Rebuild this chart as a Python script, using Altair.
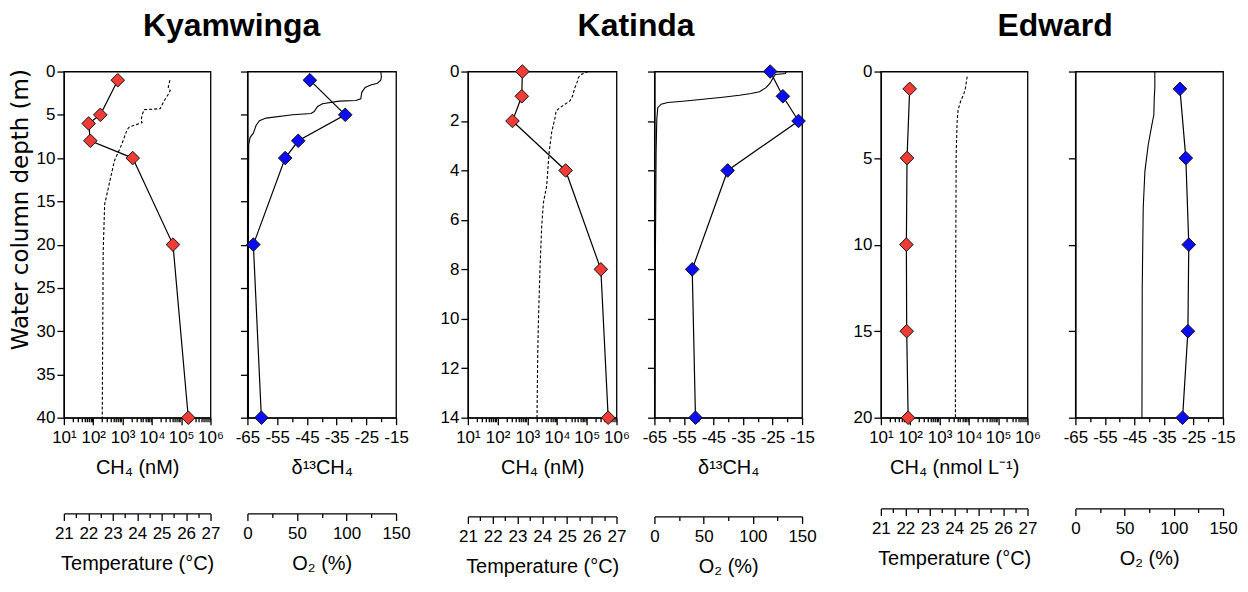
import altair as alt
import pandas as pd

FONT = "Liberation Sans"
RED = "#f03c37"
BLUE = "#0c0cf5"

# ---------------- Kyamwinga ----------------
ky_ch4_depth = [1, 5, 6, 8, 10, 20, 40]
ky_ch4 = [690, 175, 70, 80, 2230, 52500, 175000]
ky_d13_depth = [1, 5, 8, 10, 20, 40]
ky_d13 = [-44.0, -32.1, -47.9, -52.3, -63.0, -60.3]
ky_temp_depth = [1.0, 1.8, 2.2, 2.6, 3.4, 4.1, 4.3, 4.4, 5.0, 5.7, 5.9, 6.4, 6.7, 8.4, 10.3, 12.3, 14.6, 15.3, 20.7, 40]
ky_temp = [25.34, 25.27, 25.35, 25.28, 25.10, 24.97, 24.94, 24.29, 24.20, 24.16, 24.20, 23.68, 23.59, 23.37, 23.07, 22.91, 22.73, 22.67, 22.61, 22.57]
ky_o2_depth = [0, 0.6, 1.0, 1.35, 1.55, 1.85, 2.4, 3.15, 3.35, 3.42, 3.73, 4.04, 4.62, 4.85, 5.0, 5.38, 5.69, 6.23, 7.12, 7.6, 8.46, 15, 25, 40]
ky_o2 = [134.6, 135.2, 134.6, 131.2, 124.5, 118.8, 115.4, 114.4, 109.4, 92.6, 75.8, 70.8, 67.4, 64.1, 45.6, 18.8, 12.1, 8.7, 6.0, 2.7, 1.3, 1.1, 1.0, 1.0]

# ---------------- Katinda ----------------
ka_ch4_depth = [0, 1, 2, 4, 8, 14]
ka_ch4 = [680, 650, 316, 19400, 297000, 525000]
ka_d13_depth = [0, 1, 2, 4, 8, 14]
ka_d13 = [-25.8, -21.5, -16.2, -40.2, -52.2, -51.1]
ka_temp_depth = [0, 0.11, 0.24, 0.38, 0.65, 0.98, 1.19, 1.32, 1.46, 1.59, 1.86, 2.47, 3.28, 4.63, 5.3, 6.24, 8.0, 10.0, 11.4, 14]
ka_temp = [25.86, 25.59, 25.46, 25.43, 25.32, 25.23, 25.12, 24.92, 24.72, 24.56, 24.52, 24.38, 24.28, 24.18, 24.05, 23.98, 23.91, 23.85, 23.82, 23.79]
ka_o2_depth = [0, 0.08, 0.12, 0.28, 0.47, 0.65, 0.82, 0.89, 0.96, 1.04, 1.12, 1.2, 1.25, 1.32, 1.46, 1.93, 3.28, 7.3, 14]
ka_o2 = [133.8, 133.1, 122.9, 120.2, 117.5, 113.4, 106.7, 98.2, 86.4, 69.4, 49.1, 28.8, 13.5, 6.8, 3.4, 2.4, 1.7, 1.0, 0.3]

# ---------------- Edward ----------------
ed_ch4_depth = [1, 5, 10, 15, 20]
ed_ch4 = [96, 78, 74, 76, 85]
ed_d13_depth = [1, 5, 10, 15, 20]
ed_d13 = [-29.6, -27.6, -26.6, -26.9, -28.7]
ed_temp_depth = [0.29, 0.96, 1.31, 1.73, 2.21, 2.88, 4.8, 8.65, 14.4, 20]
ed_temp = [24.53, 24.46, 24.39, 24.26, 24.16, 24.12, 24.08, 24.07, 24.05, 24.05]
ed_o2_depth = [0, 0.96, 1.54, 2.5, 3.17, 4.23, 5.77, 7.88, 12.5, 20]
ed_o2 = [80.7, 80.7, 80.1, 79.7, 77.4, 74.0, 70.6, 68.9, 67.9, 67.6]

# ---------------- ticks ----------------
ch4_major = [10, 100, 1000, 10000, 100000, 1000000]
ch4_labels = ["10¹", "10²", "10³", "10⁴", "10⁵", "10⁶"]
ch4_ticks = [k * 10 ** n for n in range(1, 6) for k in range(1, 10)] + [10 ** 6]
d13_ticks = list(range(-65, -14, 5))
temp_ticks = [21 + 0.5 * i for i in range(13)]
o2_ticks = list(range(0, 151, 25))

ch4_label_expr = " : ".join(
    f"datum.value == {v} ? '{l}'" for v, l in zip(ch4_major, ch4_labels)
) + " : ''"
ch4_test = "indexof([" + ",".join(str(v) for v in ch4_major) + "], datum.value) >= 0"
d13_test = "(datum.value + 65) % 10 == 0"
temp_test = "datum.value % 1 == 0"
o2_test = "datum.value % 50 == 0"


def x_axis(values, test, label_expr, title, offset=0, title_pad=12):
    kw = dict(
        values=values, orient="bottom", offset=offset, labelExpr=label_expr,
        labelOverlap=False, labelFlush=False, labelFont=FONT, labelFontSize=17,
        labelColor="black", labelPadding=5, tickColor="black", tickWidth=1.3,
        domainColor="black", domainWidth=1.3, grid=False, titleFont=FONT,
        titleFontSize=20, titleFontWeight="normal", titleColor="black",
        titlePadding=title_pad,
        tickSize={"condition": {"test": test, "value": 7}, "value": 4},
    )
    kw["title"] = title
    return alt.Axis(**kw)


def y_axis(values, labels, title):
    kw = dict(
        values=values, labels=labels, labelFlush=False, labelOverlap=False,
        labelFont=FONT, labelFontSize=17, labelColor="black", labelPadding=2,
        tickColor="black", tickWidth=1.3, tickSize=7, domainColor="black",
        domainWidth=1.3, grid=False, titleFont="DejaVu Sans", titleFontSize=23,
        titleFontWeight="normal", titleColor="black", titlePadding=4,
        titleY=138,
    )
    kw["title"] = title
    return alt.Axis(**kw)


def panel(pts_df, xfield, xscale, xaxis, color, prof_df, pfield, pscale, paxis,
          yscale, yaxis, w, h, dashed):
    Y = alt.Y("depth:Q", scale=yscale, axis=yaxis)
    line_kw = dict(color="black", strokeWidth=1.1)
    if dashed:
        line_kw["strokeDash"] = [3, 2]
    prof = alt.Chart(prof_df).mark_line(**line_kw).encode(
        x=alt.X(f"{pfield}:Q", scale=pscale, axis=paxis),
        y=Y, order=alt.Order("depth:Q"))
    X = alt.X(f"{xfield}:Q", scale=xscale, axis=xaxis)
    conn = alt.Chart(pts_df).mark_line(color="black", strokeWidth=1.2).encode(
        x=X, y=Y, order=alt.Order("depth:Q"))
    dots = alt.Chart(pts_df).mark_point(
        shape="diamond", filled=True, fill=color, stroke="#111111",
        strokeWidth=1, size=185, opacity=1).encode(x=X, y=Y)
    return alt.layer(prof, alt.layer(conn, dots)).resolve_scale(
        x="independent").properties(width=w, height=h)


def lake(name, ch4_depth, ch4, d13_depth, d13, t_depth, temp, o_depth, o2,
         dmax, yvals, ytitle, ch4_title, d13_title, t_off, gap, widths, h, tdx):
    yscale = alt.Scale(domain=[0, dmax], reverse=True, nice=False, zero=False)
    ch4_scale = alt.Scale(type="log", domain=[10, 1000000], nice=False)
    d13_scale = alt.Scale(domain=[-65, -15], nice=False, zero=False)
    t_scale = alt.Scale(domain=[21, 27], nice=False, zero=False)
    o_scale = alt.Scale(domain=[0, 150], nice=False, zero=False)

    left = panel(
        pd.DataFrame({"depth": ch4_depth, "ch4": ch4}), "ch4", ch4_scale,
        x_axis(ch4_ticks, ch4_test, ch4_label_expr, ch4_title), RED,
        pd.DataFrame({"depth": t_depth, "temp": temp}), "temp", t_scale,
        x_axis(temp_ticks, temp_test, f"{temp_test} ? '' + datum.value : ''",
               "Temperature (°C)", offset=t_off),
        yscale, y_axis(yvals, True, ytitle), widths[0], h, True)
    right = panel(
        pd.DataFrame({"depth": d13_depth, "d13": d13}), "d13", d13_scale,
        x_axis(d13_ticks, d13_test, f"{d13_test} ? '-' + abs(datum.value) : ''",
               d13_title), BLUE,
        pd.DataFrame({"depth": o_depth, "o2": o2}), "o2", o_scale,
        x_axis(o2_ticks, o2_test, f"{o2_test} ? '' + datum.value : ''",
               "O₂ (%)", offset=t_off),
        yscale, y_axis(yvals, False, None), widths[1], h, False)
    return alt.hconcat(left, right, spacing=gap).properties(
        title=alt.TitleParams(name, font=FONT, fontSize=32, fontWeight="bold",
                              anchor="middle", color="black", offset=19, dx=tdx))


g1 = lake("Kyamwinga", ky_ch4_depth, ky_ch4, ky_d13_depth, ky_d13, ky_temp_depth,
          ky_temp, ky_o2_depth, ky_o2, 40, list(range(0, 41, 5)),
          "Water column depth (m)", "CH₄ (nM)", "δ¹³CH₄", 96, 10, (147, 149), 347, 22)
g2 = lake("Katinda", ka_ch4_depth, ka_ch4, ka_d13_depth, ka_d13, ka_temp_depth,
          ka_temp, ka_o2_depth, ka_o2, 14, list(range(0, 15, 2)),
          None, "CH₄ (nM)", "δ¹³CH₄", 99, 11, (149, 148), 347, 8)
g3 = lake("Edward", ed_ch4_depth, ed_ch4, ed_d13_depth, ed_d13, ed_temp_depth,
          ed_temp, ed_o2_depth, ed_o2, 20, list(range(0, 21, 5)),
          None, "CH₄ (nmol L⁻¹)", None, 91, 21, (147, 148), 347, 10)

chart = alt.hconcat(
    alt.hconcat(g1, g2, spacing=28), g3, spacing=35
).properties(
    padding={"left": 0, "top": 1, "right": 2, "bottom": 2}
).configure(font=FONT).configure_view(stroke="black", strokeWidth=1.3)

chart.save("out.html", embed_options={"renderer": "svg", "actions": False})
